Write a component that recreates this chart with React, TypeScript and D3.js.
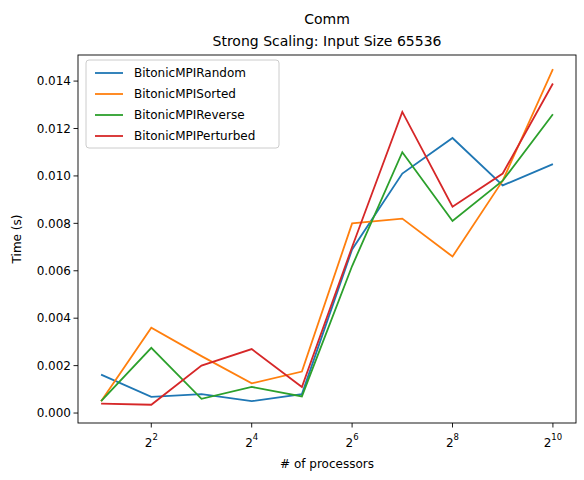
import * as d3 from 'd3'

const PROCS = [2, 4, 8, 16, 32, 64, 128, 256, 512, 1024]
const RANDOM = [0.00162, 0.00068, 0.0008, 0.0005, 0.0008, 0.0069, 0.0101, 0.0116, 0.0096, 0.0105]
const SORTED = [0.0005, 0.0036, 0.0024, 0.00125, 0.00175, 0.008, 0.0082, 0.0066, 0.0098, 0.0145]
const REVERSE = [0.0005, 0.00275, 0.0006, 0.0011, 0.0007, 0.0062, 0.011, 0.0081, 0.0098, 0.0126]
const PERTURBED = [0.0004, 0.00035, 0.002, 0.0027, 0.0011, 0.007, 0.0127, 0.0087, 0.0101, 0.0139]
const SERIES = [
  { name: 'BitonicMPIRandom', values: RANDOM, color: '#1f77b4' },
  { name: 'BitonicMPISorted', values: SORTED, color: '#ff7f0e' },
  { name: 'BitonicMPIReverse', values: REVERSE, color: '#2ca02c' },
  { name: 'BitonicMPIPerturbed', values: PERTURBED, color: '#d62728' },
]
const X_TICKS = [2, 4, 6, 8, 10]
const Y_TICKS = [0, 0.002, 0.004, 0.006, 0.008, 0.01, 0.012, 0.014]

const M = { left: 78, right: 576, top: 55, bottom: 423 }
const FONT = 'DejaVu Sans, sans-serif'

export default function App() {
  const x = d3.scaleLog().base(2).domain([Math.pow(2, 0.54), Math.pow(2, 10.46)]).range([M.left, M.right])
  const y = d3.scaleLinear().domain([-0.00042, 0.0151]).range([M.bottom, M.top])
  const line = d3.line<number>().x((_, i) => x(PROCS[i])).y((d) => y(d))
  const cx = (M.left + M.right) / 2
  return (
    <svg width={584} height={480} style={{ position: 'absolute', left: 0, top: 0, fontFamily: FONT }}>
      <rect width={584} height={480} fill="white" />
      <text x={cx} y={24} textAnchor="middle" fontSize={14}>Comm</text>
      <text x={cx} y={46} textAnchor="middle" fontSize={14}>Strong Scaling: Input Size 65536</text>
      {SERIES.map((s) => (
        <path key={s.name} d={line(s.values) ?? ''} fill="none" stroke={s.color} strokeWidth={1.8} />
      ))}
      <rect x={M.left} y={M.top} width={M.right - M.left} height={M.bottom - M.top} fill="none" stroke="black" strokeWidth={0.9} />
      {X_TICKS.map((k) => (
        <g key={k} transform={`translate(${x(Math.pow(2, k))},${M.bottom})`}>
          <line y2={4.5} stroke="black" strokeWidth={0.9} />
          <text y={24} textAnchor="middle" fontSize={12}>
            2<tspan dy={-7} fontSize={8.5}>{k}</tspan>
          </text>
        </g>
      ))}
      {Y_TICKS.map((t) => (
        <g key={t} transform={`translate(${M.left},${y(t)})`}>
          <line x2={-4.5} stroke="black" strokeWidth={0.9} />
          <text x={-7} dy="0.35em" textAnchor="end" fontSize={12}>{d3.format('.3f')(t)}</text>
        </g>
      ))}
      <text x={cx} y={468} textAnchor="middle" fontSize={12}># of processors</text>
      <text transform={`translate(21,${(M.top + M.bottom) / 2}) rotate(-90)`} textAnchor="middle" fontSize={12}>Time (s)</text>
      <g transform="translate(86,60)">
        <rect width={193} height={88} rx={3} fill="white" fillOpacity={0.8} stroke="#ccc" />
        {SERIES.map((s, i) => (
          <g key={s.name} transform={`translate(9,${13 + i * 21})`}>
            <line x2={28} stroke={s.color} strokeWidth={1.8} />
            <text x={39} dy="0.35em" fontSize={12}>{s.name}</text>
          </g>
        ))}
      </g>
    </svg>
  )
}
